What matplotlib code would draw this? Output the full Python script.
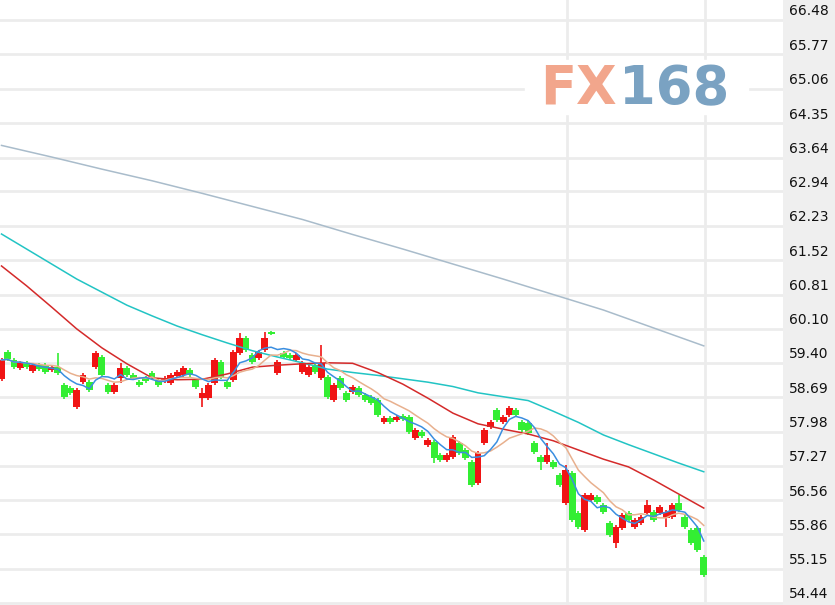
import matplotlib.pyplot as plt
import numpy as np
import pandas as pd
from matplotlib.patches import Rectangle
from matplotlib.transforms import ScaledTranslation

# candle data (open, close, high, low)
opens = [59.07, 59.62, 59.46, 59.29, 59.40, 59.23, 59.35, 59.35, 59.25, 59.31,
         58.94, 58.88, 58.49, 59.00, 59.00, 59.31, 59.52, 58.94, 58.80, 59.09,
         59.29, 59.15, 59.00, 59.09, 59.19, 59.04, 59.02, 58.98, 59.13, 59.15,
         59.25, 59.04, 58.67, 58.67, 58.98, 59.42, 59.00, 59.04, 59.60, 59.91,
         59.56, 59.50, 59.66, 60.02, 59.19, 59.60, 59.56, 59.46, 59.21, 59.15,
         59.35, 59.09, 59.11, 58.63, 59.09, 58.78, 58.80, 58.88, 58.74, 58.70,
         58.63, 58.18, 58.26, 58.22, 58.30, 58.28, 57.85, 57.97, 57.70, 57.76,
         57.50, 57.39, 57.46, 57.74, 57.60, 57.35, 56.92, 57.74, 58.07, 58.43,
         58.18, 58.32, 58.43, 58.18, 58.16, 57.74, 57.46, 57.35, 57.35, 57.08,
         56.50, 57.12, 56.30, 55.95, 56.57, 56.63, 56.46, 56.09, 55.68, 55.99,
         56.30, 56.01, 56.09, 56.30, 56.32, 56.30, 56.19, 56.22, 56.50, 56.22,
         55.95, 55.99, 55.39]
closes = [59.46, 59.48, 59.31, 59.40, 59.31, 59.35, 59.27, 59.21, 59.31, 59.19,
          58.70, 58.78, 58.84, 59.15, 58.84, 59.60, 59.15, 58.80, 58.94, 59.29,
          59.15, 59.09, 58.94, 59.02, 59.09, 58.94, 59.09, 59.15, 59.21, 59.29,
          59.15, 58.90, 58.78, 58.94, 59.46, 59.11, 58.90, 59.62, 59.91, 59.66,
          59.42, 59.62, 59.91, 60.00, 59.42, 59.52, 59.50, 59.56, 59.40, 59.31,
          59.21, 59.40, 58.70, 58.94, 58.88, 58.63, 58.90, 58.74, 58.63, 58.57,
          58.32, 58.26, 58.18, 58.28, 58.24, 57.97, 58.01, 57.89, 57.81, 57.44,
          57.39, 57.50, 57.87, 57.54, 57.44, 56.88, 57.54, 58.01, 58.18, 58.22,
          58.28, 58.47, 58.32, 58.01, 57.95, 57.56, 57.35, 57.50, 57.25, 56.88,
          57.19, 56.15, 56.01, 56.67, 56.67, 56.53, 56.32, 55.84, 56.01, 56.26,
          56.15, 56.15, 56.22, 56.46, 56.15, 56.42, 56.32, 56.46, 56.36, 56.01,
          55.68, 55.53, 55.02]
highs = [59.50, 59.66, 59.50, 59.44, 59.44, 59.40, 59.40, 59.40, 59.35, 59.60,
         58.98, 58.92, 58.88, 59.19, 59.04, 59.64, 59.56, 58.98, 58.98, 59.40,
         59.33, 59.19, 59.04, 59.13, 59.23, 59.08, 59.13, 59.19, 59.25, 59.33,
         59.29, 59.08, 58.88, 58.98, 59.50, 59.46, 59.04, 59.66, 60.02, 59.95,
         59.60, 59.66, 60.04, 60.06, 59.46, 59.64, 59.60, 59.60, 59.44, 59.35,
         59.40, 59.77, 59.15, 58.98, 59.13, 58.82, 58.94, 58.92, 58.78, 58.74,
         58.67, 58.30, 58.30, 58.32, 58.34, 58.32, 58.05, 58.01, 57.85, 57.80,
         57.54, 57.54, 57.91, 57.78, 57.64, 57.39, 57.58, 58.05, 58.22, 58.47,
         58.32, 58.51, 58.47, 58.22, 58.20, 57.78, 57.50, 57.74, 57.39, 57.12,
         57.29, 57.16, 56.34, 56.71, 56.71, 56.67, 56.50, 56.13, 56.05, 56.30,
         56.34, 56.19, 56.26, 56.57, 56.36, 56.46, 56.36, 56.50, 56.67, 56.26,
         55.99, 56.03, 55.43]
lows = [59.03, 59.44, 59.27, 59.25, 59.27, 59.19, 59.23, 59.17, 59.21, 59.15,
        58.65, 58.74, 58.45, 58.96, 58.80, 59.27, 59.11, 58.76, 58.76, 58.98,
        59.11, 59.05, 58.90, 58.98, 59.05, 58.90, 58.98, 58.94, 59.09, 59.11,
        59.11, 58.86, 58.49, 58.63, 58.94, 59.07, 58.86, 59.00, 59.56, 59.62,
        59.38, 59.46, 59.62, 59.98, 59.15, 59.48, 59.46, 59.42, 59.17, 59.11,
        59.17, 59.05, 58.65, 58.59, 58.84, 58.59, 58.76, 58.70, 58.59, 58.53,
        58.28, 58.14, 58.14, 58.18, 58.20, 57.93, 57.81, 57.85, 57.66, 57.33,
        57.35, 57.35, 57.42, 57.50, 57.40, 56.84, 56.88, 57.70, 58.03, 58.18,
        58.14, 58.28, 58.28, 57.97, 57.91, 57.52, 57.19, 57.31, 57.21, 56.84,
        56.46, 56.11, 55.97, 55.91, 56.53, 56.49, 56.28, 55.80, 55.58, 55.95,
        56.11, 55.97, 56.05, 56.26, 56.11, 56.26, 56.01, 56.18, 56.32, 55.97,
        55.64, 55.49, 54.98]

# longer moving averages (every 4th / 8th candle)
ma_idx = list(range(0, 113, 4))
ma20 = [61.40, 60.99, 60.55, 60.10, 59.71, 59.38, 59.09, 59.05, 59.06, 59.17,
        59.31, 59.35, 59.38, 59.40, 59.39, 59.20, 58.96, 58.67, 58.36, 58.14,
        58.03, 57.93, 57.79, 57.60, 57.41, 57.25, 56.98, 56.69, 56.40]
ma60 = [62.06, 61.75, 61.44, 61.13, 60.86, 60.59, 60.37, 60.16, 59.98, 59.81,
        59.65, 59.52, 59.40, 59.27, 59.20, 59.14, 59.07, 59.00, 58.91, 58.78,
        58.70, 58.62, 58.40, 58.17, 57.91, 57.71, 57.52, 57.33, 57.15]
ma120_idx = list(range(0, 113, 8))
ma120 = [63.89, 63.65, 63.40, 63.16, 62.90, 62.63, 62.36, 62.05,
         61.75, 61.44, 61.13, 60.81, 60.49, 60.12, 59.75]

tick_labels = ['66.48', '65.77', '65.06', '64.35', '63.64', '62.94', '62.23',
               '61.52', '60.81', '60.10', '59.40', '58.69', '57.98', '57.27',
               '56.56', '55.86', '55.15', '54.44']
period_breaks = [90.2, 112.2]

UP = '#f01414'
DOWN = '#33ee33'
GRID = '#ececec'

df = pd.DataFrame({'open': opens, 'close': closes, 'high': highs, 'low': lows})
ma5 = df['close'].rolling(5, min_periods=1).mean()
ma10 = df['close'].rolling(10, min_periods=1).mean()
x = np.arange(len(df))

fig = plt.figure(figsize=(8.35, 6.05), dpi=100)
fig.patches.append(Rectangle((783 / 835, 0), 52 / 835, 1, transform=fig.transFigure,
                             color='#efefef', zorder=-1))
ax = fig.add_axes([0, 0, 783 / 835, 1])
ax.set_xlim(-0.24, 124.64)
ax.set_ylim(54.398, 66.893)

ticks = [float(t) for t in tick_labels]
ax.set_yticks(ticks)
ax.set_yticklabels(tick_labels)
ax.yaxis.tick_right()
ax.tick_params(axis='y', length=0, pad=4, labelsize=10, labelcolor='#111111')
ax.set_xticks([])
for lab in ax.get_yticklabels():
    lab.set_transform(lab.get_transform() + ScaledTranslation(0, 0.1, fig.dpi_scale_trans))
ax.set_axisbelow(True)
ax.grid(axis='y', color=GRID, lw=2.0)
for b in period_breaks:
    ax.axvline(b, color=GRID, lw=2.0, zorder=0.5)
for s in ax.spines.values():
    s.set_visible(False)

# watermark
ax.add_patch(Rectangle((525 / 783, 1 - 114 / 605), 223 / 783, 54 / 605,
                       transform=ax.transAxes, color='white', zorder=1))
fig.text(540 / 835, 1 - 104 / 605, 'FX', fontsize=38, fontweight='bold',
         color='#f2a68c', va='baseline', zorder=2)
fig.text(619 / 835, 1 - 104 / 605, '168', fontsize=38, fontweight='bold',
         color='#7aa2c2', va='baseline', zorder=2)

# candles
colors = [UP if c >= o else DOWN for o, c in zip(df['open'], df['close'])]
ax.vlines(x, df['low'], df['high'], colors=colors, lw=1.2, zorder=3)
bottoms = np.minimum(df['open'], df['close'])
heights = np.maximum((df['close'] - df['open']).abs(), 0.03)
ax.bar(x, heights, bottom=bottoms, width=1.1, color=colors, lw=0, zorder=3)

# moving averages
ax.plot(ma120_idx, ma120, color='#a9bccb', lw=1.1, zorder=4)
ax.plot(ma_idx, ma60, color='#22c4c4', lw=1.1, zorder=4)
ax.plot(ma_idx, ma20, color='#d42a2a', lw=1.1, zorder=4)
ax.plot(x, ma10, color='#e8b08e', lw=1.1, zorder=4)
ax.plot(x, ma5, color='#3a8ee0', lw=1.1, zorder=4)

fig.savefig('out.png', dpi=100)
